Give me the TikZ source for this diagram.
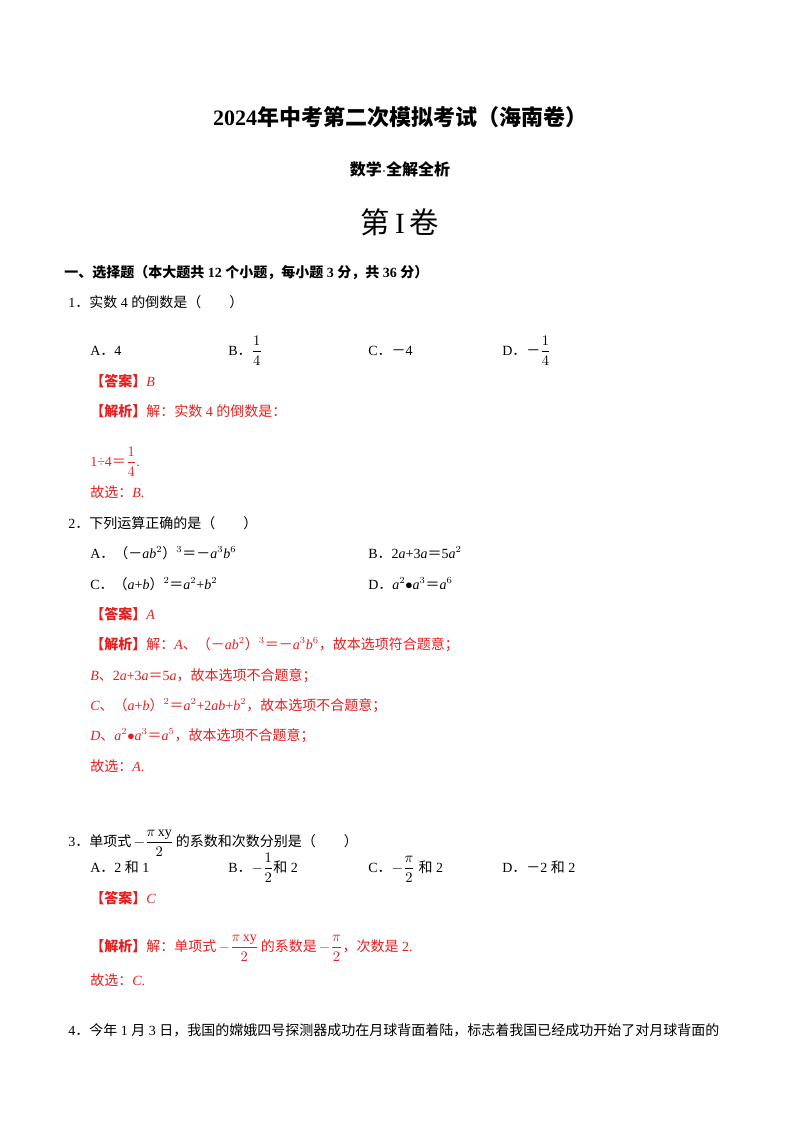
\documentclass[tikz,border=0pt]{standalone}
\usepackage{fontspec}
\setmainfont{Liberation Serif}
\newfontfamily\zhf{Noto Sans CJK SC}
\newcommand{\z}[1]{{\zhf #1}}
\newcommand{\fr}[2]{$\displaystyle\frac{#1}{#2}$}
\definecolor{ans}{RGB}{230,30,30}
\begin{document}
\begin{tikzpicture}[x=0.75pt,y=-0.75pt,
  t/.style={anchor=base west,inner sep=0pt,font=\fontsize{10.5}{12}\selectfont},
  r/.style={t,text=ans}]
\useasboundingbox (0,0) rectangle (800,1132);
\node[anchor=base,inner sep=0pt,font=\fontsize{16.5}{18}\selectfont\bfseries] (title) at (400,125) {2024\z{年中考第二次模拟考试（海南卷）}};
\node[anchor=base,inner sep=0pt,font=\fontsize{12}{14}\selectfont\bfseries] (sub) at (400,175) {\z{数学}$\cdot$\z{全解全析}};
\node[anchor=base,inner sep=0pt,font=\fontsize{22}{24}\selectfont] (vol) at (400,233) {\z{第}\,I\,\z{卷}};
\node[t,font=\fontsize{10.5}{12}\selectfont\bfseries] (s1) at (64,277) {\z{一、选择题（本大题共} 12 \z{个小题，每小题} 3 \z{分，共} 36 \z{分）}};
\node[t] (q1) at (68,307) {1\z{．实数} 4 \z{的倒数是（\qquad）}};
\node[t] (q1a) at (90,355) {A\z{．}4};
\node[t] (q1b) at (228,355) {B\z{．}\fr{1}{4}};
\node[t] (q1c) at (368,355) {C\z{．－}4};
\node[t] (q1d) at (502,355) {D\z{．－}\fr{1}{4}};
\node[r] (q1ans) at (90,386) {\textbf{\z{【答案】}}\textit{B}};
\node[r] (q1j) at (90,416) {\textbf{\z{【解析】}}\z{解：实数} 4 \z{的倒数是：}};
\node[r] (q1k) at (90,466) {1÷4\z{＝}\fr{1}{4}.};
\node[r] (q1g) at (90,497) {\z{故选：}\textit{B}.};
\node[t] (q2) at (68,528) {2\z{．下列运算正确的是（\qquad）}};
\node[t] (q2a) at (90,558) {A\z{．（－}\textit{ab}$^2$\z{）}$^3$\z{＝－}\textit{a}$^3$\textit{b}$^6$};
\node[t] (q2b) at (368,558) {B\z{．}2\textit{a}+3\textit{a}\z{＝}5\textit{a}$^2$};
\node[t] (q2c) at (90,589) {C\z{．（}\textit{a}+\textit{b}\z{）}$^2$\z{＝}\textit{a}$^2$+\textit{b}$^2$};
\node[t] (q2d) at (368,589) {D\z{．}\textit{a}$^2$$\bullet$\textit{a}$^3$\z{＝}\textit{a}$^6$};
\node[r] (q2ans) at (90,619) {\textbf{\z{【答案】}}\textit{A}};
\node[r] (q2j1) at (90,649) {\textbf{\z{【解析】}}\z{解：}\textit{A}\z{、（－}\textit{ab}$^2$\z{）}$^3$\z{＝－}\textit{a}$^3$\textit{b}$^6$\z{，故本选项符合题意；}};
\node[r] (q2j2) at (90,680) {\textit{B}\z{、}2\textit{a}+3\textit{a}\z{＝}5\textit{a}\z{，故本选项不合题意；}};
\node[r] (q2j3) at (90,710) {\textit{C}\z{、（}\textit{a}+\textit{b}\z{）}$^2$\z{＝}\textit{a}$^2$+2\textit{ab}+\textit{b}$^2$\z{，故本选项不合题意；}};
\node[r] (q2j4) at (90,740) {\textit{D}\z{、}\textit{a}$^2$$\bullet$\textit{a}$^3$\z{＝}\textit{a}$^5$\z{，故本选项不合题意；}};
\node[r] (q2g) at (90,771) {\z{故选：}\textit{A}.};
\node[t] (q3) at (68,846) {3\z{．单项式}\,$-$\fr{\pi\,\mathrm{xy}}{2}\,\z{的系数和次数分别是（\qquad）}};
\node[t] (q3a) at (90,872) {A\z{．}2 \z{和} 1};
\node[t] (q3b) at (228,872) {B\z{．}$-$\fr{1}{2}\z{和} 2};
\node[t] (q3c) at (368,872) {C\z{．}$-$\fr{\pi}{2} \z{和} 2};
\node[t] (q3d) at (502,872) {D\z{．－}2 \z{和} 2};
\node[r] (q3ans) at (90,903) {\textbf{\z{【答案】}}\textit{C}};
\node[r] (q3j) at (90,951) {\textbf{\z{【解析】}}\z{解：单项式}\,$-$\fr{\pi\,\mathrm{xy}}{2}\,\z{的系数是}\,$-$\fr{\pi}{2}\z{，次数是} 2.};
\node[r] (q3g) at (90,985) {\z{故选：}\textit{C}.};
\node[t] (q4) at (68,1035) {4\z{．今年} 1 \z{月} 3 \z{日，我国的嫦娥四号探测器成功在月球背面着陆，标志着我国已经成功开始了对月球背面的}};
\end{tikzpicture}
\end{document}
